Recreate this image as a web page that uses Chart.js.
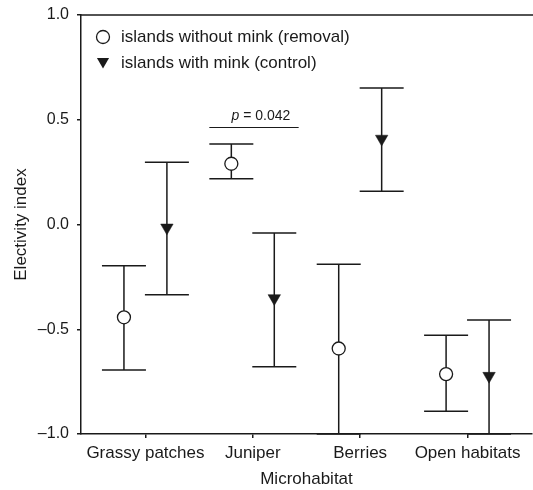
<!DOCTYPE html>
<html>
<head>
<meta charset="utf-8">
<script src="https://cdn.jsdelivr.net/npm/chart.js@4/dist/chart.umd.min.js"></script>
<style>
  html, body { margin: 0; padding: 0; background: #fff; }
  #wrap { width: 533px; height: 490px; }
</style>
</head>
<body>
<div id="wrap"><canvas id="c" width="533" height="490"></canvas></div>
<script>
// ---- data ----
const categories = ['Grassy patches', 'Juniper', 'Berries', 'Open habitats'];
const removalLabel = 'islands without mink (removal)';
const controlLabel = 'islands with mink (control)';
const removalMean  = [-0.443, 0.290, -0.592, -0.714];
const removalUpper = [-0.197, 0.384, -0.190, -0.529];
const removalLower = [-0.694, 0.218, -1.000, -0.892];
const controlMean  = [-0.015, -0.352, 0.409, -0.723];
const controlUpper = [0.297, -0.040, 0.651, -0.456];
const controlLower = [-0.335, -0.679, 0.159, -1.000];
const yTicks = [-1.0, -0.5, 0.0, 0.5, 1.0];
const pText = ['p', ' = 0.042'];

// layout constants
const OFFSET = 0.2;
const INK = '#1a1a1a';
const FONT = 'Liberation Sans, Arial, Helvetica, sans-serif';

const removalPts = categories.map((c, i) => ({x: i - OFFSET, y: removalMean[i]}));
const controlPts = categories.map((c, i) => ({x: i + OFFSET, y: controlMean[i]}));

const errorBars = {
  id: 'errorBars',
  beforeDatasetsDraw(chart) {
    const {ctx, scales: {x, y}} = chart;
    const series = [
      {off: -OFFSET, up: removalUpper, lo: removalLower},
      {off: OFFSET, up: controlUpper, lo: controlLower}
    ];
    ctx.save();
    ctx.strokeStyle = INK;
    ctx.lineWidth = 1.5;
    const cap = 22;
    series.forEach(s => {
      categories.forEach((c, i) => {
        const px = x.getPixelForValue(i + s.off);
        const pt = y.getPixelForValue(s.up[i]);
        const pb = y.getPixelForValue(s.lo[i]);
        ctx.beginPath();
        ctx.moveTo(px, pt); ctx.lineTo(px, pb);
        ctx.moveTo(px - cap, pt); ctx.lineTo(px + cap, pt);
        ctx.moveTo(px - cap, pb); ctx.lineTo(px + cap, pb);
        ctx.stroke();
      });
    });
    ctx.restore();
  },
  afterDraw(chart) {
    const {ctx, chartArea, scales: {x, y}} = chart;
    ctx.save();
    // top frame line
    ctx.strokeStyle = INK;
    ctx.lineWidth = 1.5;
    ctx.beginPath();
    ctx.moveTo(chartArea.left, chartArea.top);
    ctx.lineTo(chart.width, chartArea.top);
    ctx.stroke();

    // significance line
    const ly = y.getPixelForValue(0.463);
    ctx.lineWidth = 1.2;
    ctx.beginPath();
    ctx.moveTo(x.getPixelForValue(0.595), ly);
    ctx.lineTo(x.getPixelForValue(1.427), ly);
    ctx.stroke();
    // p text
    ctx.fillStyle = INK;
    ctx.textBaseline = 'alphabetic';
    ctx.textAlign = 'left';
    let tx = x.getPixelForValue(0.802);
    const ty = ly - 7.5;
    ctx.font = 'italic 14px ' + FONT;
    ctx.fillText(pText[0], tx, ty);
    tx += ctx.measureText(pText[0]).width;
    ctx.font = '14px ' + FONT;
    ctx.fillText(pText[1], tx, ty);

    // legend
    const lx = chartArea.left + 22;
    const rows = [
      {label: chart.data.datasets[0].label, y: 37, type: 'circle'},
      {label: chart.data.datasets[1].label, y: 63, type: 'tri'}
    ];
    ctx.font = '17px ' + FONT;
    ctx.textBaseline = 'middle';
    rows.forEach(r => {
      ctx.lineWidth = 1.3;
      ctx.strokeStyle = INK;
      if (r.type === 'circle') {
        ctx.beginPath();
        ctx.arc(lx, r.y, 6.5, 0, Math.PI * 2);
        ctx.fillStyle = '#fff';
        ctx.fill();
        ctx.stroke();
      } else {
        const rr = 7;
        ctx.beginPath();
        ctx.moveTo(lx - rr * 0.866, r.y - rr / 2 - 1.5);
        ctx.lineTo(lx + rr * 0.866, r.y - rr / 2 - 1.5);
        ctx.lineTo(lx, r.y + rr - 1.5);
        ctx.closePath();
        ctx.fillStyle = INK;
        ctx.fill();
      }
      ctx.fillStyle = INK;
      ctx.fillText(r.label, lx + 18, r.y + 0.5);
    });
    ctx.restore();
  }
};

new Chart(document.getElementById('c'), {
  type: 'scatter',
  data: {
    datasets: [
      {
        label: removalLabel,
        data: removalPts,
        pointStyle: 'circle',
        pointRadius: 6.5,
        pointHoverRadius: 6.5,
        pointBackgroundColor: '#fff',
        pointBorderColor: INK,
        pointBorderWidth: 1.3,
        showLine: false
      },
      {
        label: controlLabel,
        data: controlPts,
        pointStyle: 'triangle',
        pointRotation: 180,
        pointRadius: 7.2,
        pointHoverRadius: 7.2,
        pointBackgroundColor: INK,
        pointBorderColor: INK,
        pointBorderWidth: 0.5,
        showLine: false
      }
    ]
  },
  options: {
    responsive: false,
    animation: false,
    events: [],
    layout: { autoPadding: false, padding: { top: 15, right: 1, left: 0, bottom: 0 } },
    plugins: {
      legend: { display: false },
      tooltip: { enabled: false }
    },
    scales: {
      x: {
        type: 'linear',
        min: -0.6,
        max: 3.6,
        afterBuildTicks(scale) {
          scale.ticks = categories.map((c, i) => ({value: i}));
        },
        afterFit(scale) {
          scale.height = 56;
          scale.paddingLeft = 0;
          scale.paddingRight = 0;
        },
        ticks: {
          autoSkip: false,
          maxRotation: 0,
          padding: 5,
          color: INK,
          font: { family: FONT, size: 17 },
          callback: (v) => categories[v]
        },
        grid: { display: true, drawOnChartArea: false, drawTicks: true, tickLength: 4, color: INK, lineWidth: 1.5 },
        border: { display: true, color: INK, width: 1.5 },
        title: {
          display: true,
          text: 'Microhabitat',
          color: INK,
          font: { family: FONT, size: 17 },
          padding: { top: 0, bottom: 0 }
        }
      },
      y: {
        min: -1,
        max: 1,
        afterBuildTicks(scale) {
          scale.ticks = yTicks.map(v => ({value: v}));
        },
        afterFit(scale) {
          scale.width = 81;
          scale.paddingTop = 0;
          scale.paddingBottom = 0;
        },
        ticks: {
          padding: 8,
          color: INK,
          font: { family: FONT, size: 16 },
          callback: (v) => (v < 0 ? '\u2013' : '') + Math.abs(v).toFixed(1)
        },
        grid: { display: true, drawOnChartArea: false, drawTicks: true, tickLength: 4, color: INK, lineWidth: 1.5 },
        border: { display: true, color: INK, width: 1.5 },
        title: {
          display: true,
          text: 'Electivity index',
          color: INK,
          font: { family: FONT, size: 17 },
          padding: { top: 11, bottom: 0 }
        }
      }
    }
  },
  plugins: [errorBars]
});
</script>
</body>
</html>
